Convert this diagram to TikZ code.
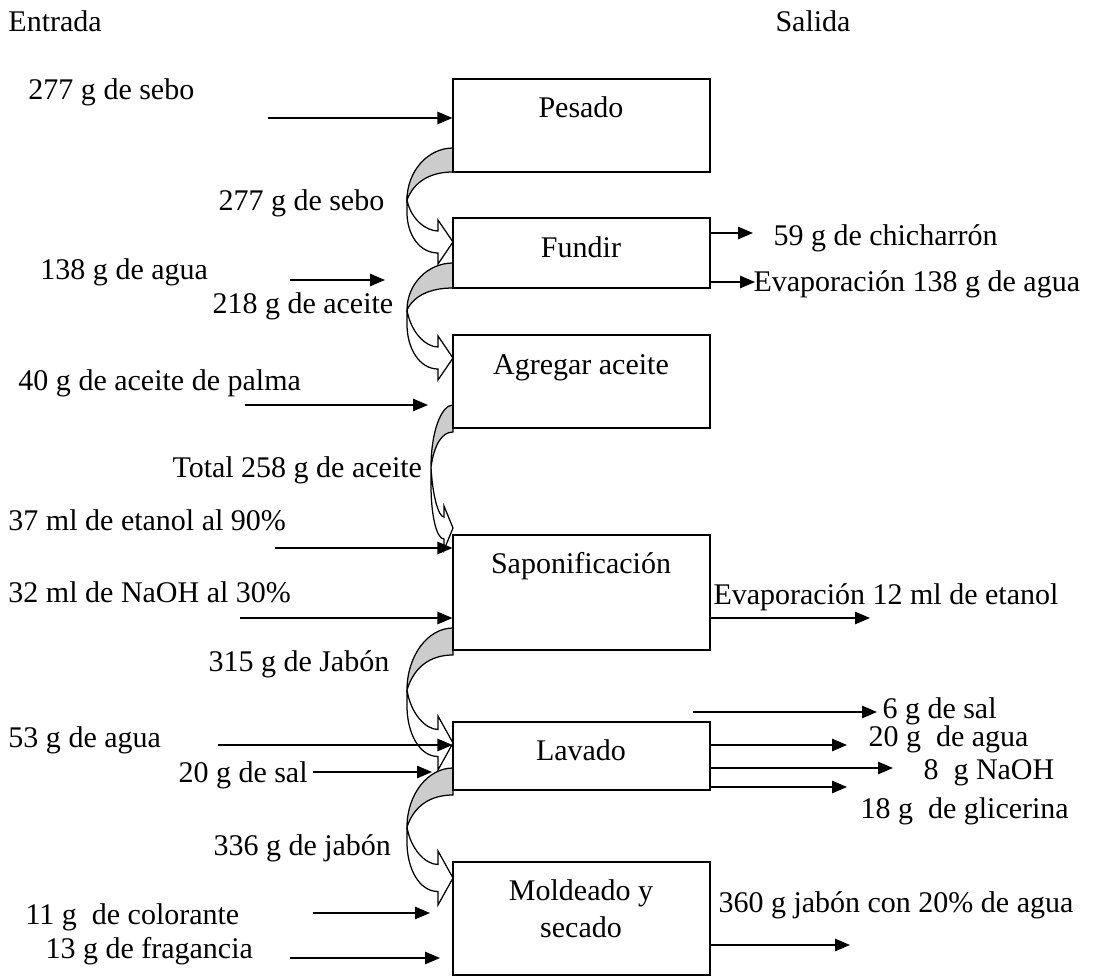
\documentclass[tikz,border=0pt]{standalone}
\usepackage{fontspec}
\setmainfont{Liberation Serif}
\usetikzlibrary{arrows.meta, positioning, fit}

% flecha curva entre dos pasos: #1 y sup., #2 y inf., #3 x izq., #4 y izq., #5 y punta, #6 media punta, #7 x base punta
\newcommand{\curva}[7]{%
  \draw[pliegue] (453,#1) .. controls ({#3+(453-#3)*0.45},#1) and (#3,{#1+(#4-#1)*0.45}) .. (#3,#4)
    .. controls ({#3+(453-#3)*0.15},{#4-(#4-#2)*0.65}) and ({#3+(453-#3)*0.5},#2) .. (453,#2) -- cycle;
  \draw[cuerpo] (#3,#4) .. controls ({#3+(#7-#3)*0.12},{#4+(#5-0.5*#6-#4)*0.6}) and ({#3+(#7-#3)*0.6},{#5-0.5*#6}) .. (#7,{#5-0.5*#6})
    -- (#7,{#5-#6}) -- (453,#5) -- (#7,{#5+#6}) -- (#7,{#5+0.5*#6})
    .. controls ({#3+(#7-#3)*0.4},{#5+0.5*#6}) and (#3,{#5+0.5*#6-(#5+0.5*#6-#4)*0.35}) .. (#3,{#4+(#5-#4)*0.3}) -- cycle;
}

\begin{document}
\begin{tikzpicture}[
  x=0.4pt, y=-0.4pt,
  every node/.style={font=\fontsize{12}{14}\selectfont},
  proceso/.style={rectangle, draw, line width=0.5pt, inner sep=0pt},
  dato/.style={anchor=base west, inner sep=0pt},
  paso/.style={anchor=base, inner sep=0pt},
  arr/.style={-{Triangle[length=6pt, width=5pt]}, line width=0.5pt},
  pliegue/.style={draw, line width=0.5pt, fill=gray!40},
  cuerpo/.style={draw, line width=0.5pt, fill=white},
]
\useasboundingbox (0,0) rectangle (1101,979);

% flechas curvas
\curva{148}{172}{407}{200}{242}{22}{438}
\curva{263}{288}{407}{310}{358}{22}{438}
\curva{405}{432}{431}{467}{528}{22}{444}
\curva{628}{655}{407}{690}{743}{27}{438}
\curva{768}{795}{407}{827}{878}{27}{438}

% pasos
\node[proceso, fit={(453,79)(710,172)}]  (pesado)  {};
\node[proceso, fit={(453,218)(710,288)}] (fundir)  {};
\node[proceso, fit={(453,335)(710,428)}] (agregar) {};
\node[proceso, fit={(453,535)(710,650)}] (sapon)   {};
\node[proceso, fit={(453,722)(710,790)}] (lavado)  {};
\node[proceso, fit={(453,862)(710,975)}] (molde)   {};

\node[paso] (tpesado)  at (581,118) {Pesado};
\node[paso] (tfundir)  at (581,258) {Fundir};
\node[paso] (tagregar) at (581,375) {Agregar aceite};
\node[paso] (tsapon)   at (581,573) {Saponificación};
\node[paso] (tlavado)  at (581,760) {Lavado};
\node[paso] (tmolde)   at (581,900) {Moldeado y};
\node[paso] (tmolde2)  at (581,937) {secado};

% encabezados
\node[dato] (entrada) at (8,32)   {Entrada};
\node[dato] (salida)  at (775,32) {Salida};

% entradas
\node[dato] (sebo)   at (28,100)  {277 g de sebo};
\node[dato] (sebo2)  at (218,211) {277 g de sebo};
\node[dato] (agua)   at (40,279)  {138 g de agua};
\node[dato] (aceite) at (212,314) {218 g de aceite};
\node[dato] (palma)  at (18,390)  {40 g de aceite de palma};
\node[dato] (total)  at (172,477) {Total 258 g de aceite};
\node[dato] (etanol) at (8,530)   {37 ml de etanol al 90\%};
\node[dato] (naoh)   at (8,602)   {32 ml de NaOH al 30\%};
\node[dato] (jabon)  at (208,671) {315 g de Jabón};
\node[dato] (agua2)  at (8,747)   {53 g de agua};
\node[dato] (sal)    at (178,782) {20 g de sal};
\node[dato] (jabon2) at (213,855) {336 g de jabón};
\node[dato] (color)  at (25,924)  {11 g~ de colorante};
\node[dato] (frag)   at (45,958)  {13 g de fragancia};

\coordinate (sebo0)   at (268,118);
\coordinate (agua0)   at (290,280);
\coordinate (agua1)   at (385,280);
\coordinate (palma0)  at (245,405);
\coordinate (palma1)  at (428,405);
\coordinate (etanol0) at (275,548);
\coordinate (naoh0)   at (240,618);
\coordinate (agua20)  at (218,745);
\coordinate (sal0)    at (313,772);
\coordinate (sal1)    at (432,772);
\coordinate (color0)  at (313,913);
\coordinate (color1)  at (430,913);
\coordinate (frag0)   at (290,958);
\coordinate (frag1)   at (440,958);

\draw[arr] (sebo0) -- (sebo0 -| pesado.west);
\draw[arr] (agua0) -- (agua1);
\draw[arr] (palma0) -- (palma1);
\draw[arr] (etanol0) -- (etanol0 -| sapon.west);
\draw[arr] (naoh0) -- (naoh0 -| sapon.west);
\draw[arr] (agua20) -- (agua20 -| lavado.west);
\draw[arr] (sal0) -- (sal1);
\draw[arr] (color0) -- (color1);
\draw[arr] (frag0) -- (frag1);

% salidas
\node[dato] (chich) at (773,246) {59 g de chicharrón};
\node[dato] (evap)  at (753,291) {Evaporación 138 g de agua};
\node[dato] (evap2) at (713,604) {Evaporación 12 ml de etanol};
\node[dato] (sal2)  at (882,718) {6 g de sal};
\node[dato] (agua3) at (868,746) {20 g~ de agua};
\node[dato] (naoh2) at (923,779) {8~ g NaOH};
\node[dato] (glic)  at (860,818) {18 g~ de glicerina};
\node[dato] (final) at (718,912) {360 g jabón con 20\% de agua};

\coordinate (chich1) at (753,233);
\coordinate (evap1)  at (755,282);
\coordinate (evap21) at (870,618);
\coordinate (sal20)  at (693,712);
\coordinate (sal21)  at (877,712);
\coordinate (agua31) at (847,745);
\coordinate (naoh21) at (893,768);
\coordinate (glic1)  at (847,787);
\coordinate (final1) at (850,945);

\draw[arr] (chich1 -| fundir.east) -- (chich1);
\draw[arr] (evap1 -| fundir.east) -- (evap1);
\draw[arr] (evap21 -| sapon.east) -- (evap21);
\draw[arr] (sal20) -- (sal21);
\draw[arr] (agua31 -| lavado.east) -- (agua31);
\draw[arr] (naoh21 -| lavado.east) -- (naoh21);
\draw[arr] (glic1 -| lavado.east) -- (glic1);
\draw[arr] (final1 -| molde.east) -- (final1);

\end{tikzpicture}
\end{document}
